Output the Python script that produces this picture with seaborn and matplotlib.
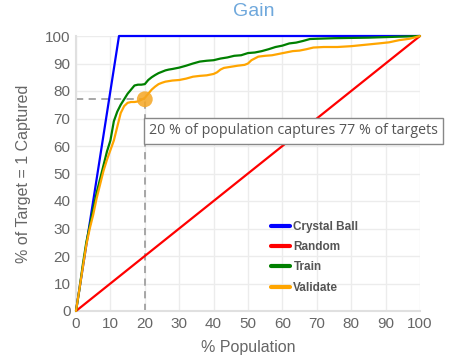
import matplotlib
matplotlib.use("Agg")
import matplotlib.pyplot as plt
import seaborn as sns
import pandas as pd

# ---- data ----
crystal_x = [0, 12.5, 100]
crystal_y = [0, 100, 100]
random_x = [0, 100]
random_y = [0, 100]
train_x = [0, 1, 2, 3, 4, 5, 6, 7, 8, 9, 10, 11, 12, 13, 14, 15, 16, 17, 18, 19, 20, 21, 22, 23, 24, 25, 26, 27, 28, 30,
           32, 34, 36, 38, 40, 42, 44, 46, 48, 50, 52, 54, 56, 58, 60, 62, 64, 66, 68, 70, 75, 80, 85, 90, 95, 100]
train_y = [0, 8, 17, 25, 31, 37, 43, 48, 53, 58, 62, 69, 72.5, 75, 77, 79, 80.5, 82, 82.3, 82.3, 82.5, 84, 85, 85.8, 86.5,
           87, 87.5, 87.8, 88, 88.5, 89.2, 90, 90.7, 91, 91.2, 91.8, 92.2, 92.8, 93, 93.8, 94, 94.5, 95.2, 96, 96.5, 97.3,
           97.6, 98.2, 98.9, 99, 99.2, 99.3, 99.4, 99.6, 99.8, 100]
valid_x = [0, 1, 2, 3, 4, 5, 6, 7, 8, 9, 10, 11, 12, 13, 14, 15, 16, 17, 18, 19, 20, 21, 22, 23, 24, 25, 26, 28, 30, 32,
           34, 36, 38, 40, 41, 42, 43, 45, 47, 49, 50, 51, 53, 55, 57, 59, 61, 63, 65, 67, 69, 72, 76, 80, 84, 88, 91, 94,
           97, 100]
valid_y = [0, 8, 16, 24, 30, 35, 41, 46, 51, 55, 58.5, 62, 67, 72, 74.5, 75.7, 76, 76, 76.2, 76.8, 77.5, 79, 80.5, 81.6,
           82.5, 83, 83.4, 83.8, 84, 84.5, 85.2, 85.5, 85.7, 86.2, 86.8, 87.8, 88.4, 88.8, 89.2, 89.5, 90, 91.2, 92.5,
           92.8, 93, 93.5, 94, 94.5, 94.7, 95.2, 95.8, 96, 96, 96.3, 96.8, 97.3, 97.7, 98.5, 99, 100]
series_names = ["Crystal Ball", "Random", "Train", "Validate"]
series_colors = ["#0000ff", "#ff0000", "#008000", "#ffa500"]
x_ticks = list(range(0, 101, 10))
y_ticks = list(range(0, 101, 10))
hover_x, hover_y = 20, 77
tooltip_text = "20 % of population captures 77 % of targets"

frames = []
for name, xs, ys in zip(series_names,
                        [crystal_x, random_x, train_x, valid_x],
                        [crystal_y, random_y, train_y, valid_y]):
    frames.append(pd.DataFrame({"x": xs, "y": ys, "series": name}))
df = pd.concat(frames, ignore_index=True)

sns.set_theme(style="white")
plt.rcParams["font.family"] = ["Liberation Sans", "DejaVu Sans"]

fig = plt.figure(figsize=(4.59, 3.61), dpi=100)
ax = fig.add_axes([76 / 459, 50 / 361, 344 / 459, 275 / 361])

# dashed hover guides
ax.plot([0, hover_x], [hover_y, hover_y], color="#a0a0a0", lw=1.3, ls=(0, (4, 3)), zorder=2)
ax.plot([hover_x, hover_x], [0, hover_y], color="#a0a0a0", lw=1.3, ls=(0, (4, 3)), zorder=2)

for name, col in zip(series_names, series_colors):
    sub = df[df["series"] == name]
    sns.lineplot(data=sub, x="x", y="y", ax=ax, color=col, lw=1.6, label=name,
                 sort=False, estimator=None, zorder=3)

for l in ax.lines:
    l.set_clip_on(False)

ax.scatter([hover_x], [hover_y], s=130, color="#f5a623", alpha=0.85, zorder=5, clip_on=False, edgecolors="none")

ax.set_xlim(0, 100)
ax.set_ylim(0, 100)
ax.set_xticks(x_ticks)
ax.set_yticks(y_ticks)
ax.tick_params(axis="both", length=0, labelsize=11, labelcolor="#666666")
ax.tick_params(axis="x", pad=4)
ax.tick_params(axis="y", pad=4)
ax.grid(True, color="#ececec", lw=1)
for s in ["top", "right"]:
    ax.spines[s].set_visible(False)
for s in ["left", "bottom"]:
    ax.spines[s].set_color("#e0e0e0")
    ax.spines[s].set_linewidth(1.5)

ax.set_xlabel("% Population", fontsize=11.5, color="#666666", labelpad=7)
ax.set_ylabel("% of Target = 1 Captured", fontsize=11.5, color="#666666", labelpad=10)

fig.text(254 / 459, 1 - 12 / 361, "Gain", fontsize=14, color="#6fa8dc", ha="center", va="center")

leg = ax.legend(loc="upper left", bbox_to_anchor=(0.553, 0.345), frameon=False, fontsize=8.5,
                handlelength=1.6, handletextpad=0.3, labelspacing=0.7, borderaxespad=0)
for t in leg.get_texts():
    t.set_color("#555555")
    t.set_fontweight("bold")
for h in leg.get_lines():
    h.set_linewidth(3)

fig.text(149 / 459, 1 - 131 / 361, tooltip_text, fontsize=10.3, color="#555555", ha="left", va="center",
         family=["Open Sans", "DejaVu Sans"],
         bbox=dict(boxstyle="square,pad=0.35", fc="white", ec="#888888", lw=1))

fig.savefig("out.png", dpi=100)
